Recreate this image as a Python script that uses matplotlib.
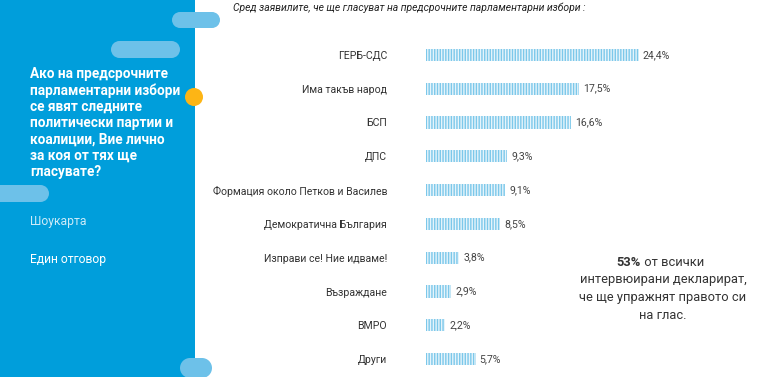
import matplotlib
matplotlib.use("Agg")
import matplotlib.pyplot as plt
from matplotlib.patches import Rectangle, Circle

plt.rcParams['font.family'] = ['Roboto', 'DejaVu Sans']
plt.rcParams['hatch.linewidth'] = 1.0

categories = ["ГЕРБ-СДС", "Има такъв народ", "БСП", "ДПС",
              "Формация около Петков и Василев", "Демократична България",
              "Изправи се! Ние идваме!", "Възраждане", "ВМРО", "Други"]
values = [24.4, 17.5, 16.6, 9.3, 9.1, 8.5, 3.8, 2.9, 2.2, 5.7]
value_labels = ["24,4%", "17,5%", "16,6%", "9,3%", "9,1%", "8,5%",
                "3,8%", "2,9%", "2,2%", "5,7%"]

title = "Сред заявилите, че ще гласуват на предсрочните парламентарни избори :"
question_lines = ["Ако на предсрочните", "парламентарни избори", "се явят следните",
                  "политически партии и", "коалиции, Вие лично", "за коя от тях ще",
                  "гласувате?"]
note_lines = ["интервюирани декларират,", "че ще упражнят правото си", "на глас."]

W, H = 768, 377
fig = plt.figure(figsize=(W / 100, H / 100), dpi=100)
fig.patch.set_facecolor("white")

bg = fig.add_axes([0, 0, 1, 1])
bg.set_xlim(0, W)
bg.set_ylim(H, 0)
bg.axis("off")

blue = "#009EDB"
pill = "#6DC1E9"
bg.add_patch(Rectangle((0, 0), 195, H, facecolor=blue, edgecolor="none", zorder=0))

def add_pill(x0, x1, y0, y1):
    h = y1 - y0
    r = h / 2
    bg.add_patch(Rectangle((x0 + r, y0), (x1 - x0) - h, h, facecolor=pill,
                           edgecolor="none", zorder=1))
    bg.add_patch(Circle((x0 + r, y0 + r), r, facecolor=pill, edgecolor="none", zorder=1))
    bg.add_patch(Circle((x1 - r, y0 + r), r, facecolor=pill, edgecolor="none", zorder=1))

add_pill(172, 220, 12, 28)
add_pill(111, 180, 41, 58)
add_pill(-20, 49, 185, 202)
add_pill(180, 212, 358, 378)
bg.add_patch(Circle((194, 97), 9, facecolor="#FDB515", edgecolor="none", zorder=2))

for i, line in enumerate(question_lines):
    bg.text(30, 74 + 16.3 * i, line, color="white", fontsize=9.8, fontweight="bold",
            va="center", ha="left", zorder=3)
bg.text(30, 222, "Шоукарта", color="#CDEBF8", fontsize=8.7, va="center", ha="left")
bg.text(30, 259, "Един отговор", color="white", fontsize=8.7, va="center", ha="left")
bg.text(233, 8, title, color="#222222", fontsize=7.5, style="italic", va="center", ha="left")

bg.text(641, 262, "53%", color="#333333", fontsize=9.3, fontweight="bold", va="center", ha="right")
bg.text(641, 262, " от всички", color="#333333", fontsize=9.3, va="center", ha="left")
for i, line in enumerate(note_lines):
    bg.text(663, 280 + 17.7 * i, line, color="#333333", fontsize=9.3, va="center", ha="center")

# bar axes
x0_px, px_per_unit = 426, 8.73
ax_w_px = 300
top_px, bot_px = 38, 376
ax = fig.add_axes([x0_px / W, 1 - bot_px / H, ax_w_px / W, (bot_px - top_px) / H])
ax.patch.set_alpha(0)
ax.set_xlim(0, ax_w_px / px_per_unit)
ypos = list(range(len(categories)))
ax.set_ylim(len(categories) - 0.5, -0.5)
ax.barh(ypos, values, height=0.36, color="#E6F4FB", edgecolor="#7CC8EA",
        hatch="||||||", linewidth=0)
for y, v, lab in zip(ypos, values, value_labels):
    ax.text(v + 0.45, y, lab, color="#444444", fontsize=7.6, va="center", ha="left")
ax.set_yticks(ypos)
ax.set_yticklabels(categories, fontsize=7.6, color="#333333")
ax.tick_params(axis="y", length=0, pad=28)
ax.set_xticks([])
for s in ax.spines.values():
    s.set_visible(False)

fig.savefig("out.png", dpi=100)
